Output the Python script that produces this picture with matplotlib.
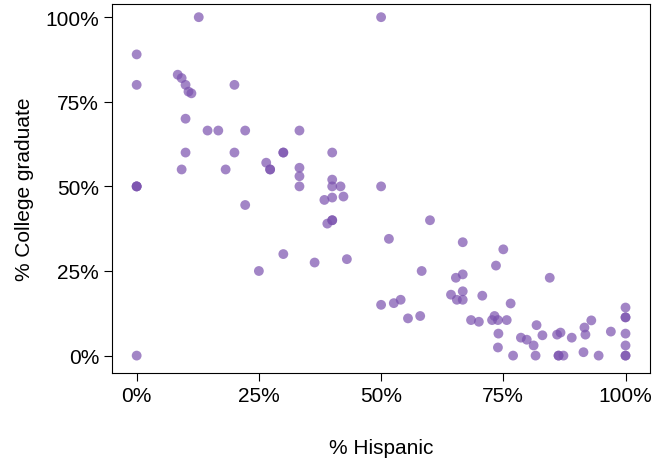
import matplotlib
matplotlib.use("Agg")
import matplotlib.pyplot as plt
from matplotlib.ticker import PercentFormatter

# % Hispanic vs % College graduate
hispanic = [0, 0, 0, 0, 0, 0,
            8.4, 9.2, 10, 10.6, 11.2, 12.7, 10, 10, 9.2,
            14.5, 16.7, 20, 20, 18.2, 22.2, 22.2, 25,
            26.5, 27.3, 27.3, 30, 30, 30, 33.3, 33.3, 33.3, 33.3, 36.4,
            40, 40, 40, 40, 40, 40, 39, 38.4, 41.7, 42.3, 43,
            50, 50, 50, 51.6, 52.6, 54, 55.5, 58, 58.3, 60,
            64.3, 65.5, 65.3, 66.7, 66.7, 66.7, 66.7, 68.4, 70, 70.7,
            72.7, 73.2, 73.9, 73.5, 75, 74, 73.9, 75.7, 76.5, 77,
            78.6, 79.8, 81.2, 81.8, 81.6, 83, 84.5, 86, 86.7, 86.3, 86.3, 87.3,
            89, 91.4, 91.6, 91.8, 93, 94.5, 97,
            100, 100, 100, 100, 100, 100, 100]
college = [89, 80, 50, 50, 50, 0,
           83, 82, 80, 78, 77.5, 100, 70, 60, 55,
           66.5, 66.5, 80, 60, 55, 66.5, 44.5, 25,
           57, 55, 55, 60, 60, 30, 66.5, 55.5, 53, 50, 27.5,
           60, 52, 50, 46.7, 40, 40, 39, 46, 50, 47, 28.5,
           100, 50, 15, 34.5, 15.5, 16.5, 11, 11.7, 25, 40,
           18, 16.5, 23, 24, 33.5, 19, 16.5, 10.5, 10, 17.7,
           10.5, 11.7, 10.5, 26.6, 31.4, 6.5, 2.4, 10.5, 15.4, 0,
           5.3, 4.7, 3, 9, 0, 6, 23, 6.2, 6.8, 0, 0, 0,
           5.3, 1, 8.3, 6.2, 10.4, 0, 7.1,
           14.2, 11.3, 11.3, 6.5, 3, 0, 0]

plt.rcParams['font.family'] = ['Liberation Sans', 'DejaVu Sans']
fig, ax = plt.subplots(figsize=(6.68, 4.64), dpi=100)
fig.subplots_adjust(left=0.168, right=0.973, top=0.99, bottom=0.195)

ax.scatter(hispanic, college, s=50, color='#7B52AE', alpha=0.7, edgecolors='none')

ax.set_xlim(-5, 105)
ax.set_ylim(-5, 104)
ax.set_xticks([0, 25, 50, 75, 100])
ax.set_yticks([0, 25, 50, 75, 100])
ax.xaxis.set_major_formatter(PercentFormatter(decimals=0))
ax.yaxis.set_major_formatter(PercentFormatter(decimals=0))
ax.tick_params(labelsize=15, length=6, direction='out')
ax.set_xlabel('% Hispanic', fontsize=15, labelpad=24)
ax.set_ylabel('% College graduate', fontsize=15, labelpad=8)

fig.savefig('out.png')
